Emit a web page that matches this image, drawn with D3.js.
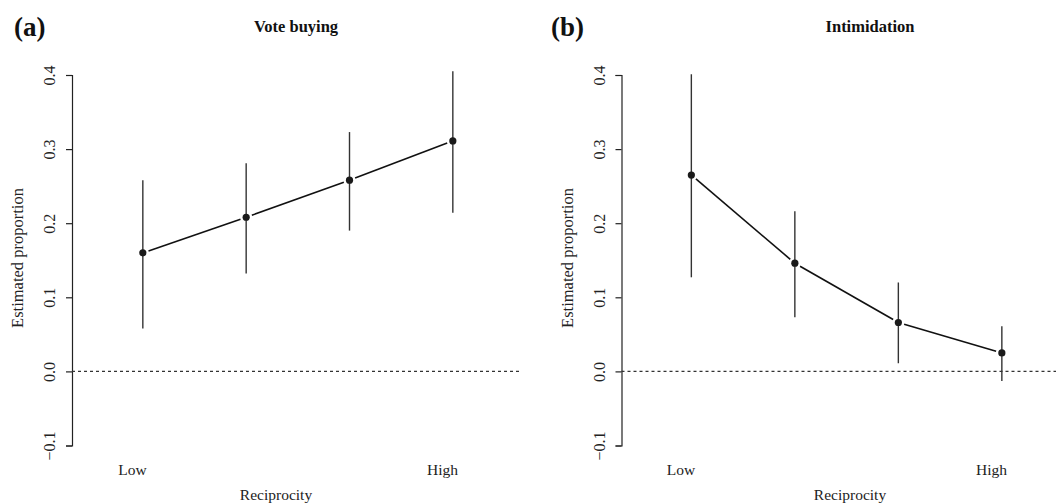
<!DOCTYPE html>
<html>
<head>
<meta charset="utf-8">
<script src="https://cdn.jsdelivr.net/npm/d3@7"></script>
<style>
  body { margin: 0; background: #fff; }
  svg text { font-family: "Liberation Serif", "Times New Roman", serif; fill: #222; }
</style>
</head>
<body>
<script>
var w = 1056, h = 503;

// data
var levels = [1.1, 2.1, 3.1, 4.1];          // reciprocity positions of the 4 estimates
var xTickPos = [1, 4];
var xTickLabels = ["Low", "High"];
var yTicks = [-0.1, 0, 0.1, 0.2, 0.3, 0.4];

var voteEst = [0.160, 0.208, 0.258, 0.311];
var voteLo  = [0.058, 0.132, 0.190, 0.214];
var voteHi  = [0.258, 0.281, 0.323, 0.405];

var intimEst = [0.265, 0.146, 0.066, 0.025];
var intimLo  = [0.127, 0.073, 0.011, -0.013];
var intimHi  = [0.401, 0.216, 0.120, 0.061];

var svg = d3.select("body").append("svg")
            .attr("width", w)
            .attr("height", h);

var y = d3.scaleLinear().domain([-0.1, 0.4]).range([445.5, 75]);
var fmt = d3.format(".1f");

function drawPanel(opt) {
  var x = d3.scaleLinear().domain([1, 4]).range(opt.xRange);
  var g = svg.append("g");

  // panel letter + title
  g.append("text")
   .attr("x", opt.letterX).attr("y", 36)
   .attr("font-size", 27).attr("font-weight", "bold")
   .style("fill", "#111")
   .text(opt.letter);
  g.append("text")
   .attr("x", opt.titleX).attr("y", 32)
   .attr("text-anchor", "middle")
   .attr("font-size", 16.5).attr("font-weight", "bold")
   .style("fill", "#111")
   .text(opt.title);

  // y axis
  var yAxis = g.append("g")
               .attr("transform", "translate(" + opt.axisX + ",0)")
               .call(d3.axisLeft(y).tickValues(yTicks).tickFormat(fmt).tickSizeOuter(0).tickSize(6));
  yAxis.select(".domain").attr("stroke", "#222").attr("stroke-width", 1.2);
  yAxis.selectAll(".tick line").attr("stroke", "#222").attr("stroke-width", 1.2);
  yAxis.selectAll(".tick text")
       .attr("font-family", "Liberation Serif, serif")
       .attr("font-size", 16)
       .attr("x", 0).attr("dy", 0)
       .attr("text-anchor", "middle")
       .attr("transform", "translate(-17,0) rotate(-90)");

  g.append("text")
   .attr("transform", "translate(" + (opt.axisX - 49) + ",258) rotate(-90)")
   .attr("text-anchor", "middle")
   .attr("font-size", 16.5)
   .text("Estimated proportion");

  // x labels
  g.selectAll(".xlab")
   .data(xTickLabels)
   .enter().append("text")
   .attr("class", "xlab")
   .attr("x", function(d, i) { return x(xTickPos[i]); })
   .attr("y", 475)
   .attr("text-anchor", "middle")
   .attr("font-size", 15.5)
   .text(function(d) { return d; });
  g.append("text")
   .attr("x", opt.xlabX).attr("y", 500)
   .attr("text-anchor", "middle")
   .attr("font-size", 15.5)
   .text("Reciprocity");

  // zero reference line
  g.append("line")
   .attr("x1", opt.axisX).attr("x2", opt.zeroEnd)
   .attr("y1", y(0)).attr("y2", y(0))
   .attr("stroke", "#333").attr("stroke-width", 1.1)
   .attr("stroke-dasharray", "3,3");

  var pts = levels.map(function(l, i) {
    return { x: x(l), y: y(opt.est[i]), lo: y(opt.lo[i]), hi: y(opt.hi[i]) };
  });

  // confidence intervals
  g.selectAll(".ci")
   .data(pts)
   .enter().append("line")
   .attr("class", "ci")
   .attr("x1", function(d) { return d.x; }).attr("x2", function(d) { return d.x; })
   .attr("y1", function(d) { return d.lo; }).attr("y2", function(d) { return d.hi; })
   .attr("stroke", "#333").attr("stroke-width", 1.4);

  // connecting segments with gaps around the points (like R type="b")
  var gap = 6;
  var segs = d3.pairs(pts).map(function(p) {
    var dx = p[1].x - p[0].x, dy = p[1].y - p[0].y;
    var len = Math.sqrt(dx * dx + dy * dy);
    var ux = dx / len, uy = dy / len;
    return { x1: p[0].x + ux * gap, y1: p[0].y + uy * gap,
             x2: p[1].x - ux * gap, y2: p[1].y - uy * gap };
  });
  g.selectAll(".seg")
   .data(segs)
   .enter().append("line")
   .attr("class", "seg")
   .attr("x1", function(d) { return d.x1; }).attr("y1", function(d) { return d.y1; })
   .attr("x2", function(d) { return d.x2; }).attr("y2", function(d) { return d.y2; })
   .attr("stroke", "#111").attr("stroke-width", 1.6);

  g.selectAll(".pt")
   .data(pts)
   .enter().append("circle")
   .attr("class", "pt")
   .attr("cx", function(d) { return d.x; })
   .attr("cy", function(d) { return d.y; })
   .attr("r", 3.6)
   .attr("fill", "#1a1a1a");
}

drawPanel({ letter: "(a)", letterX: 14, title: "Vote buying", titleX: 296,
            axisX: 72, xRange: [132.5, 442.5], zeroEnd: 521, xlabX: 276,
            est: voteEst, lo: voteLo, hi: voteHi });
drawPanel({ letter: "(b)", letterX: 551, title: "Intimidation", titleX: 870,
            axisX: 621.5, xRange: [681, 991.5], zeroEnd: 1056, xlabX: 850,
            est: intimEst, lo: intimLo, hi: intimHi });
</script>
</body>
</html>
